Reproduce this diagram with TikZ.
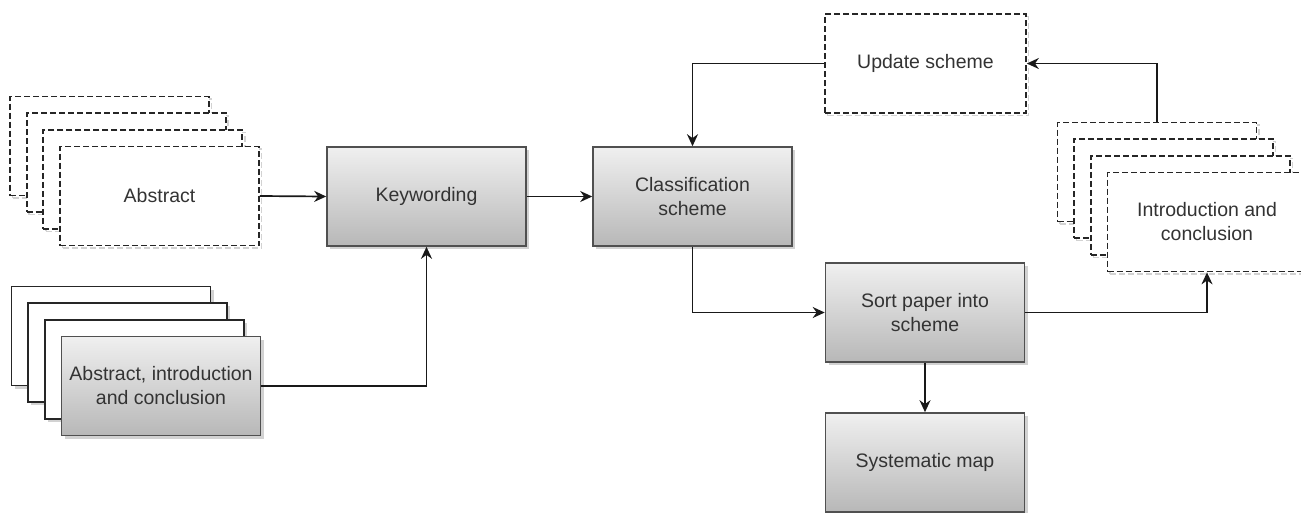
\documentclass[tikz,border=0pt]{standalone}
\usepackage{fontspec}
\setmainfont{Liberation Sans}
\usetikzlibrary{arrows.meta,shadows}
\definecolor{txt}{HTML}{333333}
\definecolor{edge}{HTML}{505050}
\tikzset{
  box/.style={rectangle, minimum width=199pt, minimum height=99pt, inner sep=2pt,
    align=center, text=txt, font=\fontsize{19.5}{24}\selectfont},
  shadedbox/.style={box, draw=edge, line width=1.6pt, top color=white!94!black, bottom color=white!72!black,
    drop shadow={shadow xshift=3pt, shadow yshift=-3pt, fill=gray!70, opacity=0.5}},
  plainbox/.style={box, draw=black!85, line width=1.6pt, fill=white,
    drop shadow={shadow xshift=3pt, shadow yshift=-3pt, fill=gray!70, opacity=0.5}},
  dashbox/.style={box, draw=black!85, line width=1.7pt, fill=white, dash pattern=on 6pt off 3pt,
    general shadow={shadow xshift=2.5pt, shadow yshift=-2.5pt, draw=gray!35, line width=1.5pt, dash pattern=on 6pt off 3pt}},
  arr/.style={draw=black!90, line width=1.7pt, -{Stealth[length=12pt,width=11pt]}}
}
\begin{document}
\begin{tikzpicture}[x=1pt,y=-1pt]
\useasboundingbox (0,0) rectangle (1301,512);
% Abstract stack (dashed)
\node[dashbox] (a1) at (109.5,146) {};
\node[dashbox] (a2) at (126.2,162.7) {};
\node[dashbox] (a3) at (142.8,179.3) {};
\node[dashbox] (a4) at (159.5,196) {Abstract};
% Abstract, introduction and conclusion stack
\node[plainbox] (b1) at (111,336) {};
\node[plainbox] (b2) at (127.7,352.7) {};
\node[plainbox] (b3) at (144.3,369.3) {};
\node[shadedbox] (b4) at (161,386) {Abstract, introduction\\and conclusion};
% Main flow
\node[shadedbox] (kw) at (426.5,196.5) {Keywording};
\node[shadedbox] (cs) at (692.5,196.5) {Classification\\scheme};
\node[dashbox, minimum width=201pt] (us) at (925.5,63.5) {Update scheme};
\node[shadedbox] (sp) at (925,312.5) {Sort paper into\\scheme};
\node[shadedbox] (sm) at (925,462.5) {Systematic map};
% Introduction and conclusion stack (dashed)
\node[dashbox] (i1) at (1157,172) {};
\node[dashbox] (i2) at (1173.7,188.7) {};
\node[dashbox] (i3) at (1190.3,205.3) {};
\node[dashbox] (i4) at (1207,222) {Introduction and\\conclusion};
% Connectors
\draw[arr] (a4.east) -- (kw.west);
\draw[arr] (b4.east) -| (kw.south);
\draw[arr] (kw.east) -- (cs.west);
\draw[arr] (cs.south) |- (sp.west);
\draw[arr] (us.west) -| (cs.north);
\draw[arr] (i1.north) |- (us.east);
\draw[arr] (sp.east) -| (i4.south);
\draw[arr] (sp.south) -- (sm.north);
\end{tikzpicture}
\end{document}
